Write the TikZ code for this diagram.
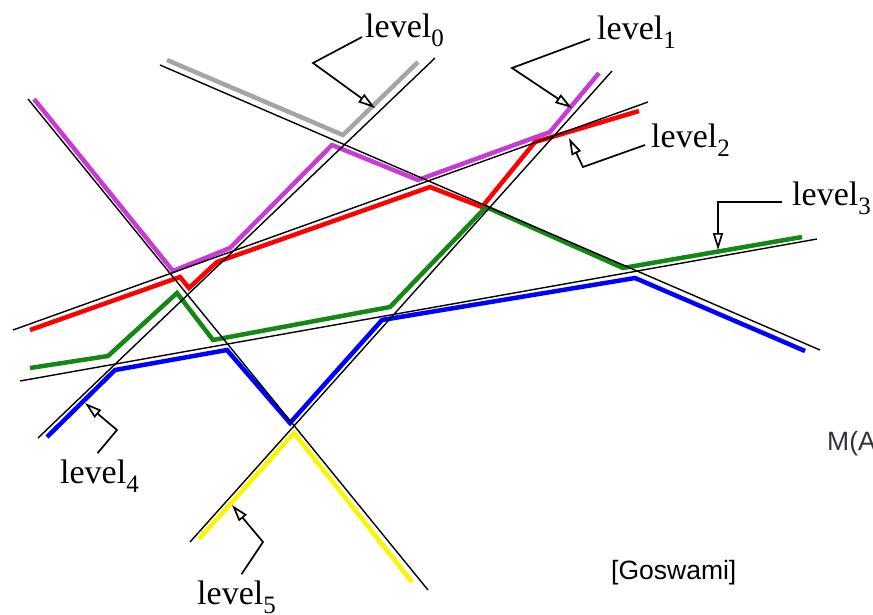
\documentclass[tikz,border=0pt]{standalone}
\usepackage{fontspec}
\setmainfont{Liberation Serif}
\setsansfont{Liberation Sans}
\usetikzlibrary{arrows.meta}
\definecolor{lvlpurple}{RGB}{200,60,210}
\definecolor{lvlgreen}{RGB}{20,135,20}
\definecolor{lvlgray}{RGB}{165,165,165}
\definecolor{lvlyellow}{RGB}{250,245,0}
\definecolor{citegray}{RGB}{50,50,62}
\newcommand{\lvlname}[1]{level\raisebox{-9pt}{\fontsize{25}{28}\selectfont #1}}
\begin{document}
\begin{tikzpicture}[x=1pt, y=-1pt,
  arrline/.style={black, line width=1.4pt},
  lvl/.style={line width=4.5pt, line join=miter},
  tag/.style={font=\fontsize{34}{40}\selectfont, anchor=base west, inner sep=0pt},
  callout/.style={black, line width=1.7pt,
                  -{Triangle[open, length=17pt, width=10pt, fill=white]}},
  cite/.style={font=\sffamily\fontsize{26.5}{30}\selectfont, anchor=base west, inner sep=0pt}
]
\useasboundingbox (0,0) rectangle (873,614);
% levels of the arrangement
\draw[lvl, lvlgray] (167,60) -- (343,135) -- (418,62);
\draw[lvl, lvlpurple] (34,99) -- (173,271) -- (230,248) -- (332,145)
  -- (418,180) -- (550,132) -- (599,73);
\draw[lvl, red] (30,330) -- (180,277) -- (189,288) -- (217,262)
  -- (430,187) -- (482,207) -- (535,142) -- (639,111);
\draw[lvl, lvlgreen] (30,368) -- (108,356) -- (177,293) -- (213,340)
  -- (390,307) -- (486,207) -- (623,268) -- (802,237);
\draw[lvl, blue] (47,437) -- (115,370) -- (227,350) -- (290,423)
  -- (382,320) -- (635,278) -- (805,351);
\draw[lvl, lvlyellow] (199,539) -- (294,433) -- (412,582);
% the lines
\draw[arrline] (160,65) -- (820,350);
\draw[arrline] (435,58) -- (38,438);
\draw[arrline] (28,99) -- (428,590);
\draw[arrline] (13,330) -- (648,102);
\draw[arrline] (20,381) -- (817,239);
\draw[arrline] (190,542) -- (612,71);
% labels
\node[tag] (l0) at (365,37) {\lvlname{0}};
\node[tag] (l1) at (597,39) {\lvlname{1}};
\node[tag] (l2) at (651,147) {\lvlname{2}};
\node[tag] (l3) at (792,205) {\lvlname{3}};
\node[tag] (l4) at (60,483) {\lvlname{4}};
\node[tag] (l5) at (197,604) {\lvlname{5}};
\coordinate (b0) at (313,63);  \coordinate (t0) at (375,108);
\coordinate (b1) at (512,68);  \coordinate (t1) at (572,108);
\coordinate (b2) at (583,167); \coordinate (t2) at (569,138);
\coordinate (b3) at (718,202); \coordinate (t3) at (718,250);
\coordinate (b4) at (117,430); \coordinate (t4) at (85,403);
\coordinate (b5) at (263,542); \coordinate (t5) at (232,505);
\draw[callout] ([xshift=-3pt]l0.base west) -- (b0) -- (t0);
\draw[callout] ([xshift=-7pt]l1.base west) -- (b1) -- (t1);
\draw[callout] ([xshift=-6pt,yshift=2pt]l2.base west) -- (b2) -- (t2);
\draw[callout] ([xshift=-10pt,yshift=3pt]l3.base west) -- (b3) -- (t3);
\draw[callout] ([xshift=-2pt,yshift=6pt]l4.north) -- (b4) -- (t4);
\draw[callout] ([xshift=5pt,yshift=6pt]l5.north) -- (b5) -- (t5);
% source
\node[cite] (src) at (611,579) {[Goswami]};
\node[cite, text=citegray] (ma) at (827,450) {M(A};
\end{tikzpicture}
\end{document}
